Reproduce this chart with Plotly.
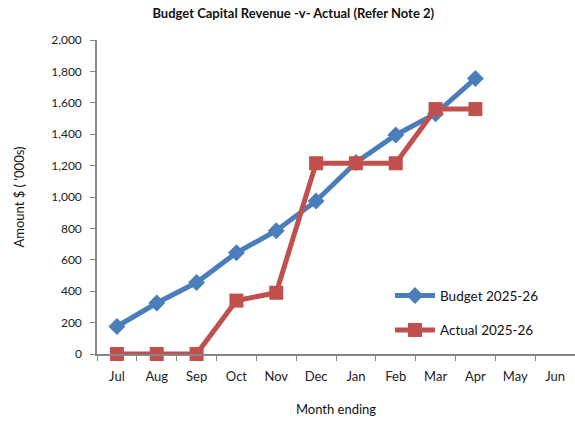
import plotly.graph_objects as go

months = ["Jul", "Aug", "Sep", "Oct", "Nov", "Dec", "Jan", "Feb", "Mar", "Apr", "May", "Jun"]
budget = [175, 325, 455, 645, 785, 975, 1220, 1395, 1530, 1755]
actual = [0, 0, 0, 340, 390, 1215, 1215, 1215, 1560, 1560]

BLUE = "#4A7EBB"
RED = "#C0504D"
FONT = "Lato, Carlito, Calibri, sans-serif"

fig = go.Figure()
fig.add_trace(go.Scatter(
    x=months[:len(budget)], y=budget, name="Budget 2025-26", mode="lines+markers",
    line=dict(color=BLUE, width=5), marker=dict(symbol="diamond", size=13, color=BLUE),
    legendgroup="b", cliponaxis=False))
fig.add_trace(go.Scatter(
    x=months[:len(actual)], y=actual, name="Actual 2025-26", mode="lines+markers",
    line=dict(color=RED, width=5), marker=dict(symbol="square", size=14, color=RED),
    legendgroup="a", cliponaxis=False))

fig.update_layout(
    width=575, height=421,
    margin=dict(l=97, r=0, t=40, b=67),
    paper_bgcolor="white", plot_bgcolor="white",
    font=dict(family=FONT, size=12, color="#222"),
    title=dict(text="<b>Budget Capital Revenue -v- Actual (Refer Note 2)</b>",
               x=0.51, xanchor="center", y=0.968, yanchor="middle",
               font=dict(size=13, family=FONT, color="#111")),
    showlegend=True,
    legend=dict(x=0.613, y=0.235, xanchor="left", yanchor="top",
                bgcolor="rgba(0,0,0,0)", traceorder="grouped", tracegroupgap=14,
                font=dict(size=13.5, family=FONT, color="#111"), itemwidth=40),
    xaxis=dict(type="category", categoryorder="array", categoryarray=months,
               range=[-0.5, 11.5], showgrid=False, showline=True, linecolor="#868686",
               linewidth=1.5, ticks="outside", tickson="boundaries", ticklen=5,
               tickcolor="#868686", ticklabelstandoff=10,
               tickfont=dict(size=13, family=FONT, color="#222"),
               title=dict(text="Month ending", font=dict(size=13, family=FONT, color="#111"),
                          standoff=22),
               zeroline=False),
    yaxis=dict(range=[0, 2000], dtick=200, tickformat=",", showgrid=False, showline=True,
               linecolor="#868686", linewidth=1.5, ticks="outside", ticklen=5,
               tickcolor="#868686", ticklabelstandoff=6,
               tickfont=dict(size=12, family=FONT, color="#222"),
               title=dict(text="Amount $ ( '000s)", font=dict(size=13, family=FONT, color="#111"),
                          standoff=24),
               zeroline=False),
)

fig.write_html("out.html")
